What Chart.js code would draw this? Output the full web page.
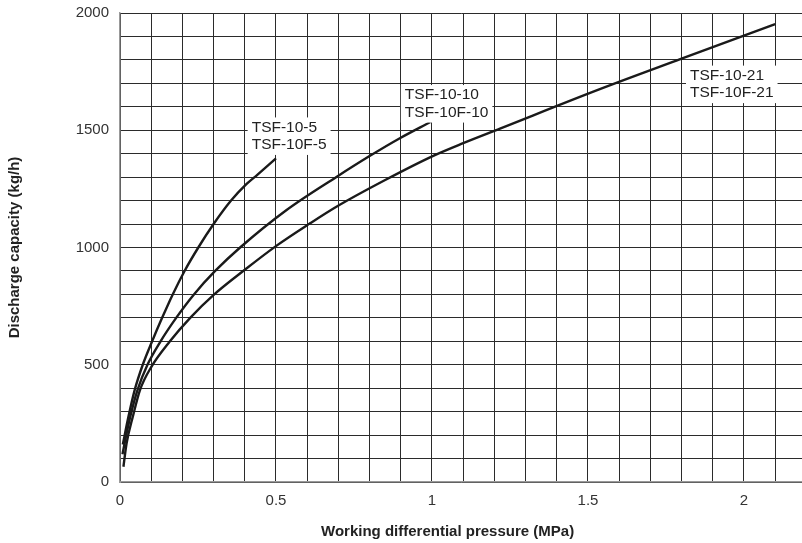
<!DOCTYPE html>
<html>
<head>
<meta charset="utf-8">
<script src="https://cdn.jsdelivr.net/npm/chart.js@4.4.1/dist/chart.umd.min.js"></script>
<style>
  body { margin: 0; background: #fff; }
  #wrap { width: 802px; height: 543px; position: relative; }
</style>
</head>
<body>
<div id="wrap"><canvas id="chart"></canvas></div>
<script>
// Working differential pressure (MPa) / discharge capacity (kg/h)
const pressure5 = [0.009, 0.027, 0.047, 0.073, 0.103, 0.135, 0.169, 0.207, 0.251, 0.3, 0.356, 0.405, 0.44, 0.5];
const capacity5 = [160, 278, 392, 500, 600, 700, 800, 900, 1000, 1100, 1200, 1270, 1310, 1380];

const pressure10 = [0.008, 0.02, 0.035, 0.056, 0.088, 0.13, 0.18, 0.237, 0.305, 0.385, 0.534, 0.695, 0.8, 0.897, 0.995];
const capacity10 = [118, 200, 290, 392, 500, 600, 700, 800, 900, 1000, 1160, 1302, 1390, 1466, 1535];

const pressure21 = [0.011, 0.021, 0.041, 0.064, 0.1, 0.16, 0.225, 0.302, 0.4, 0.502, 0.609, 0.695, 0.85, 1.004, 1.1, 1.218, 1.538, 1.8, 2.1];
const capacity21 = [65, 164, 278, 392, 490, 600, 700, 800, 905, 1008, 1103, 1175, 1288, 1391, 1445, 1507, 1675, 1805, 1953];

const curveLabels = [
    ['TSF-10-5', 'TSF-10F-5'],
    ['TSF-10-10', 'TSF-10F-10'],
    ['TSF-10-21', 'TSF-10F-21']
];

const xTitle = 'Working differential pressure (MPa)';
const yTitle = 'Discharge capacity (kg/h)';

const FONT = '"Liberation Sans", Arial, sans-serif';

function toPoints(xs, ys) {
    return xs.map((x, i) => ({ x: x, y: ys[i] }));
}

function curve(xs, ys) {
    return {
        data: toPoints(xs, ys),
        borderColor: '#1a1a1a',
        borderWidth: 2.4,
        pointRadius: 0,
        showLine: true,
        fill: false,
        cubicInterpolationMode: 'monotone'
    };
}

// where each curve label sits (data coords of the first line's left/middle)
const labelAnchors = [
    { x: 0.422, y: 1512 },
    { x: 0.913, y: 1650 },
    { x: 1.827, y: 1733 }
];

const labelPlugin = {
    id: 'curveLabels',
    afterDatasetsDraw(chart) {
        const ctx = chart.ctx;
        const xs = chart.scales.x;
        const ys = chart.scales.y;
        ctx.save();
        ctx.font = '15.5px ' + FONT;
        ctx.textBaseline = 'middle';
        ctx.textAlign = 'left';
        curveLabels.forEach((lines, i) => {
            const px = xs.getPixelForValue(labelAnchors[i].x);
            const py = ys.getPixelForValue(labelAnchors[i].y);
            const lineH = 17.5;
            const w = Math.max(...lines.map(t => ctx.measureText(t).width));
            ctx.fillStyle = '#fff';
            ctx.fillRect(px - 4, py - 10, w + 8, lineH * (lines.length - 1) + 20);
            ctx.fillStyle = '#222';
            lines.forEach((t, j) => ctx.fillText(t, px, py + j * lineH));
        });
        ctx.restore();
    },
    afterDraw(chart) {
        const ctx = chart.ctx;
        const area = chart.chartArea;
        const xs = chart.scales.x;
        ctx.save();
        ctx.font = 'bold 15px ' + FONT;
        ctx.fillStyle = '#222';
        ctx.textAlign = 'center';
        ctx.textBaseline = 'middle';
        ctx.fillText(xTitle, (area.left + xs.getPixelForValue(2.1)) / 2, 532);
        ctx.translate(15, (area.top + area.bottom) / 2);
        ctx.rotate(-Math.PI / 2);
        ctx.fillText(yTitle, 0, 0);
        ctx.restore();
    }
};

const ctx = document.getElementById('chart').getContext('2d');
const chart = new Chart(ctx, {
    type: 'scatter',
    data: {
        datasets: [
            curve(pressure5, capacity5),
            curve(pressure10, capacity10),
            curve(pressure21, capacity21)
        ]
    },
    options: {
        responsive: true,
        maintainAspectRatio: false,
        animation: false,
        layout: { padding: { top: 13, right: 0, left: 0, bottom: 0 } },
        plugins: {
            legend: { display: false },
            tooltip: { enabled: false }
        },
        scales: {
            x: {
                type: 'linear',
                min: 0,
                max: 2.186,
                afterFit: (scale) => {
                    scale.height = 61;
                    scale.paddingLeft = 0;
                    scale.paddingRight = 0;
                },
                grid: { color: '#2b2b2b', lineWidth: 1, drawTicks: false },
                border: { color: '#999', width: 1.5 },
                ticks: {
                    stepSize: 0.1,
                    includeBounds: false,
                    autoSkip: false,
                    maxRotation: 0,
                    padding: 10,
                    color: '#333',
                    font: { family: FONT, size: 15 },
                    callback: (v) => {
                        const r = v / 0.5;
                        return Math.abs(r - Math.round(r)) < 1e-6 ? String(Math.round(v * 10) / 10) : '';
                    }
                }
            },
            y: {
                min: 0,
                max: 2000,
                afterFit: (scale) => {
                    scale.width = 120;
                    scale.paddingTop = 0;
                    scale.paddingBottom = 0;
                },
                grid: { color: '#2b2b2b', lineWidth: 1, drawTicks: false },
                border: { color: '#999', width: 1.5 },
                ticks: {
                    stepSize: 100,
                    autoSkip: false,
                    padding: 11,
                    color: '#333',
                    font: { family: FONT, size: 15 },
                    callback: (v) => (v % 500 === 0 ? String(v) : '')
                }
            }
        }
    },
    plugins: [labelPlugin]
});
</script>
</body>
</html>
